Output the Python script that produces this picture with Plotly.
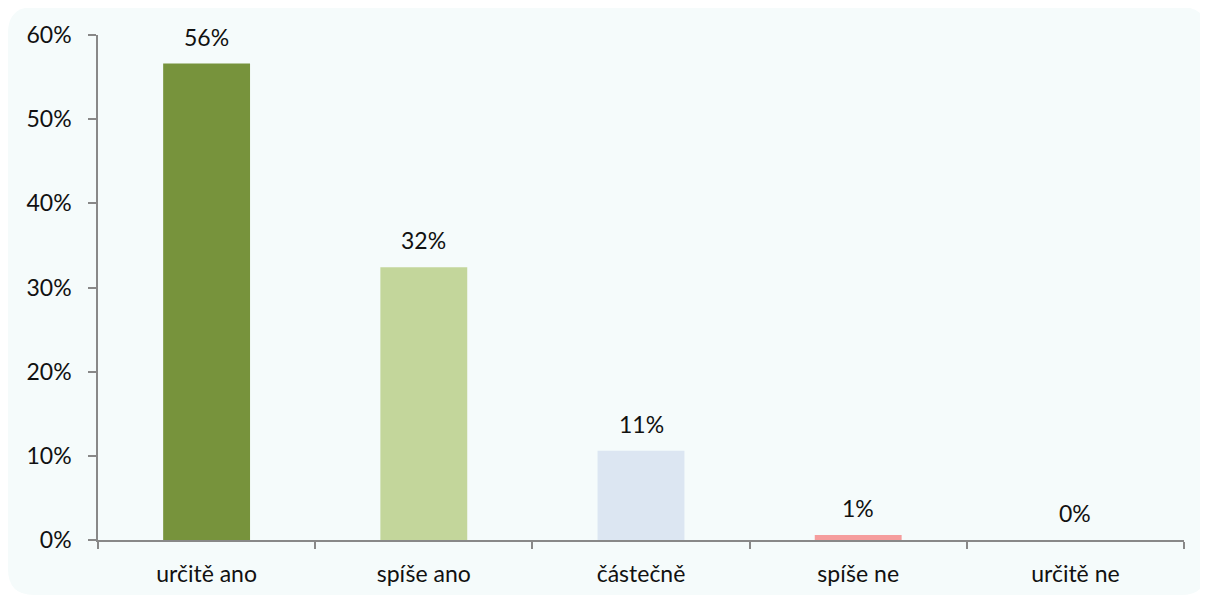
import plotly.graph_objects as go

categories = ["určitě ano", "spíše ano", "částečně", "spíše ne", "určitě ne"]
values = [0.566, 0.324, 0.106, 0.006, 0.0]
labels = ["56%", "32%", "11%", "1%", "0%"]
colors = ["#77933c", "#c3d69b", "#dce6f2", "#f59d9d", "#f59d9d"]

fig = go.Figure()
fig.add_trace(go.Bar(
    x=categories,
    y=values,
    marker=dict(color=colors, line=dict(width=0)),
    hoverinfo="skip",
))

# data labels sitting above each bar
for cat, val, lab in zip(categories, values, labels):
    fig.add_annotation(
        x=cat, y=val, text=lab, showarrow=False,
        yanchor="bottom", yshift=11,
        font=dict(size=23, color="#111111"),
    )

# rounded light background panel (pixels relative to plot origin)
x0, x1, y0, y1, r = -90, 1109, -55, 533, 26
path = (f"M {x0 + r},{y0} L {x1 - r},{y0} Q {x1},{y0} {x1},{y0 + r} "
        f"L {x1},{y1 - r} Q {x1},{y1} {x1 - r},{y1} "
        f"L {x0 + r},{y1} Q {x0},{y1} {x0},{y1 - r} "
        f"L {x0},{y0 + r} Q {x0},{y0} {x0 + r},{y0} Z")
fig.add_shape(
    type="path", path=path,
    xref="paper", yref="paper",
    xsizemode="pixel", ysizemode="pixel",
    xanchor=0, yanchor=0,
    fillcolor="#f5fbfb", line=dict(width=0), layer="below",
)

fig.update_layout(
    width=1200, height=590,
    margin=dict(l=90, r=24, t=27, b=58),
    paper_bgcolor="white",
    plot_bgcolor="rgba(0,0,0,0)",
    font=dict(family="Lato, 'Open Sans', sans-serif", size=23, color="#111111"),
    bargap=0.6,
    showlegend=False,
)
fig.update_xaxes(
    showline=True, linecolor="#888888", linewidth=1.5,
    ticks="outside", tickson="boundaries", ticklen=7, tickcolor="#888888",
    tickwidth=1.5, showgrid=False, ticklabelstandoff=13,
)
fig.update_yaxes(
    range=[0, 0.6], dtick=0.1, tickformat=".0%",
    showline=True, linecolor="#888888", linewidth=1.5,
    ticks="outside", ticklen=8, tickcolor="#888888", tickwidth=1.5,
    showgrid=False, zeroline=False, ticklabelstandoff=12,
)

fig.write_html("out.html")
